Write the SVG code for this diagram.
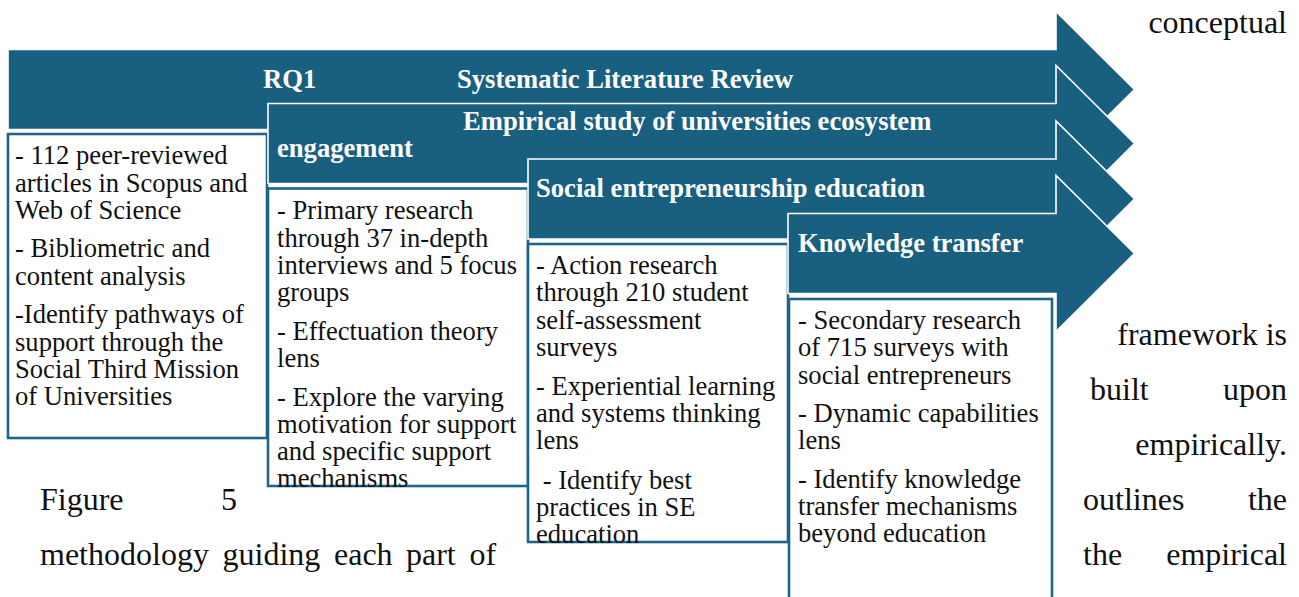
<svg xmlns="http://www.w3.org/2000/svg" width="1299" height="597" viewBox="0 0 1299 597">
<style>
.arrow{fill:#195f80;stroke:#ffffff;stroke-width:1.6}
.box{fill:#ffffff;stroke:#1e6588;stroke-width:2.6}
.hd{font-family:"Liberation Serif","Times New Roman",serif;font-weight:bold;font-size:26.6px;fill:#ffffff}
.tx{font-family:"Liberation Serif","Times New Roman",serif;font-size:26.6px;fill:#111111}
.bg{font-family:"Liberation Serif","Times New Roman",serif;font-size:32px;fill:#111111}
</style>
<rect x="0" y="0" width="1299" height="597" fill="#ffffff"/>
<g id="page-text">
<text class="bg" x="1287" y="33" text-anchor="end">conceptual</text>
<text class="bg" x="1287" y="345" text-anchor="end">framework is</text>
<text class="bg" x="1090" y="400">built</text>
<text class="bg" x="1287" y="400" text-anchor="end">upon</text>
<text class="bg" x="1287" y="455" text-anchor="end">empirically.</text>
<text class="bg" x="40" y="510">Figure</text>
<text class="bg" x="221" y="510">5</text>
<text class="bg" x="1083" y="510">outlines</text>
<text class="bg" x="1287" y="510" text-anchor="end">the</text>
<text class="bg" x="40" y="565">methodology</text>
<text class="bg" x="222.5" y="565">guiding</text>
<text class="bg" x="334" y="565">each</text>
<text class="bg" x="406" y="565">part</text>
<text class="bg" x="469.5" y="565">of</text>
<text class="bg" x="1083" y="565">the</text>
<text class="bg" x="1287" y="565" text-anchor="end">empirical</text>
</g>
<g id="connectors"></g>
<g id="stage1">
<path class="arrow" d="M8,49.5 H1056 V11.5 L1134.5,89.5 L1056,167.5 V129.5 H8 Z"/>
<text class="hd" x="263" y="88">RQ1</text>
<text class="hd" x="457" y="88">Systematic Literature Review</text>
</g>
<g id="box1">
<rect class="box" x="8" y="134" width="259" height="304"/>
<text class="tx" x="15" y="164">- 112 peer-reviewed</text>
<text class="tx" x="15" y="192">articles in Scopus and</text>
<text class="tx" x="15" y="219">Web of Science</text>
<text class="tx" x="15" y="257">- Bibliometric and</text>
<text class="tx" x="15" y="285">content analysis</text>
<text class="tx" x="15" y="323">-Identify pathways of</text>
<text class="tx" x="15" y="351">support through the</text>
<text class="tx" x="15" y="378">Social Third Mission</text>
<text class="tx" x="15" y="405">of Universities</text>
</g>
<g id="stage2">
<path class="arrow" d="M268,103.5 H1056 V65.5 L1134.5,143.5 L1056,221.5 V183.5 H268 Z"/>
<text class="hd" x="463" y="130">Empirical study of universities ecosystem</text>
<text class="hd" x="277" y="157">engagement</text>
</g>
<g id="box2">
<rect class="box" x="268" y="188.5" width="260" height="297.5"/>
<text class="tx" x="277" y="219">- Primary research</text>
<text class="tx" x="277" y="247">through 37 in-depth</text>
<text class="tx" x="277" y="274">interviews and 5 focus</text>
<text class="tx" x="277" y="301">groups</text>
<text class="tx" x="277" y="340">- Effectuation theory</text>
<text class="tx" x="277" y="367">lens</text>
<text class="tx" x="277" y="406">- Explore the varying</text>
<text class="tx" x="277" y="433">motivation for support</text>
<text class="tx" x="277" y="460">and specific support</text>
<text class="tx" x="277" y="487">mechanisms</text>
</g>
<g id="stage3">
<path class="arrow" d="M528,159 H1056 V121 L1134.5,199 L1056,277 V239 H528 Z"/>
<text class="hd" x="536" y="197">Social entrepreneurship education</text>
</g>
<g id="box3">
<rect class="box" x="528" y="244" width="260" height="298"/>
<text class="tx" x="536" y="274">- Action research</text>
<text class="tx" x="536" y="301">through 210 student</text>
<text class="tx" x="536" y="329">self-assessment</text>
<text class="tx" x="536" y="356">surveys</text>
<text class="tx" x="536" y="395">- Experiential learning</text>
<text class="tx" x="536" y="422">and systems thinking</text>
<text class="tx" x="536" y="449">lens</text>
<text class="tx" x="536" y="489" xml:space="preserve"> - Identify best</text>
<text class="tx" x="536" y="516">practices in SE</text>
<text class="tx" x="536" y="543">education</text>
</g>
<g id="stage4">
<path class="arrow" d="M788,213.5 H1056 V175.5 L1134.5,253.5 L1056,331.5 V293.5 H788 Z"/>
<text class="hd" x="798" y="252">Knowledge transfer</text>
</g>
<g id="box4">
<rect class="box" x="789" y="299" width="263" height="330"/>
<text class="tx" x="798" y="329">- Secondary research</text>
<text class="tx" x="798" y="356">of 715 surveys with</text>
<text class="tx" x="798" y="384">social entrepreneurs</text>
<text class="tx" x="798" y="422">- Dynamic capabilities</text>
<text class="tx" x="798" y="449">lens</text>
<text class="tx" x="798" y="488">- Identify knowledge</text>
<text class="tx" x="798" y="515">transfer mechanisms</text>
<text class="tx" x="798" y="542">beyond education</text>
</g>
</svg>
